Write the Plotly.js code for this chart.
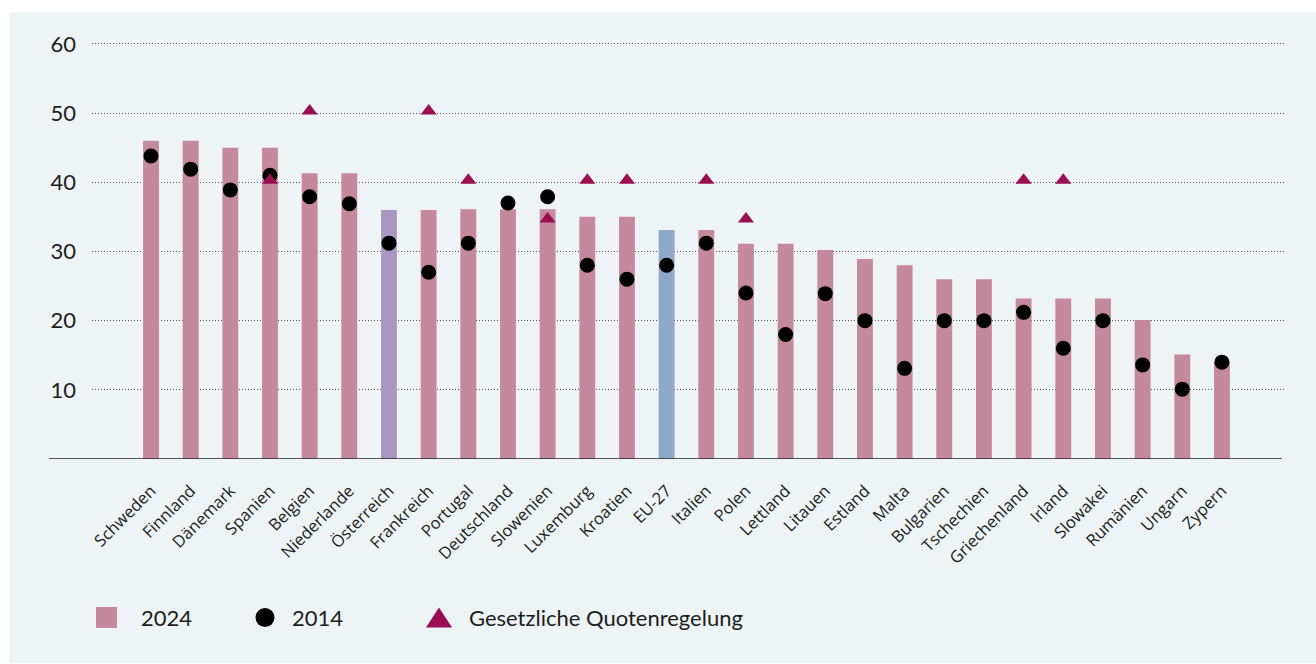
<!DOCTYPE html>
<html>
<head>
<meta charset="utf-8">
<script src="https://cdn.plot.ly/plotly-3.0.1.min.js"></script>
<style>
  html, body { margin: 0; padding: 0; background: #ffffff; }
  #chart { width: 1316px; height: 664px; }
</style>
</head>
<body>
<div id="chart"></div>
<script>
// Frauenanteil in Vorständen/Aufsichtsräten, in Prozent
const countries = [
  'Schweden', 'Finnland', 'Dänemark', 'Spanien', 'Belgien', 'Niederlande',
  'Österreich', 'Frankreich', 'Portugal', 'Deutschland', 'Slowenien',
  'Luxemburg', 'Kroatien', 'EU-27', 'Italien', 'Polen', 'Lettland',
  'Litauen', 'Estland', 'Malta', 'Bulgarien', 'Tschechien', 'Griechenland',
  'Irland', 'Slowakei', 'Rumänien', 'Ungarn', 'Zypern'
];

const share2024 = [
  46, 46, 45, 45, 41.3, 41.3,
  36, 36, 36.1, 36.1, 36.1,
  35, 35, 33.1, 33.1, 31.1, 31.1,
  30.2, 28.9, 28, 26, 26, 23.2,
  23.2, 23.2, 20.1, 15.1, 14
];

const share2014 = [
  43.8, 41.9, 38.9, 41, 37.9, 36.9,
  31.2, 27, 31.2, 37, 37.9,
  28, 26, 28, 31.2, 24, 18,
  23.9, 20, 13.1, 20, 20, 21.2,
  16, 20, 13.6, 10.1, 14
];

// Gesetzliche Quote (null = keine Regelung)
const quota = [
  null, null, null, 40.3, 50.3, null,
  null, 50.3, 40.3, null, 34.7,
  40.3, 40.3, null, 40.3, 34.7, null,
  null, null, null, null, null, 40.3,
  40.3, null, null, null, null
];

const legendLabels = ['2024', '2014', 'Gesetzliche Quotenregelung'];

// Styling
const PINK = '#c5899d';
const HIGHLIGHT = { 'Österreich': '#aa97c1', 'EU-27': '#8ea8ca' };
const QUOTA_COLOR = '#990f52';
const TEXT = '#1d1d1b';
const BG = '#eef3f6';

// Plot area geometry (pixels)
const W = 1316, H = 664;
const plotL = 92, plotR = 1285, plotT = 36.6, plotB = 459.3;
const px2x = p => (p - plotL) / (plotR - plotL);
const px2y = p => (plotB - p) / (plotB - plotT);

const barColors = countries.map(c => HIGHLIGHT[c] || PINK);

const traces = [
  {
    type: 'bar',
    x: countries,
    y: share2024,
    width: 0.4,
    marker: { color: barColors, line: { width: 0 } },
    hoverinfo: 'skip',
    showlegend: false
  },
  {
    type: 'scatter',
    mode: 'markers',
    x: countries,
    y: share2014,
    marker: { symbol: 'circle', size: 15, color: '#000000', line: { width: 0 } },
    hoverinfo: 'skip',
    showlegend: false
  },
  {
    type: 'scatter',
    mode: 'markers',
    x: countries,
    y: quota,
    marker: { symbol: 'triangle-up', size: 14, color: QUOTA_COLOR, line: { width: 0 } },
    hoverinfo: 'skip',
    showlegend: false
  }
];

// Hand-built legend row
const legY = 618;
const shapes = [
  // panel background
  {
    type: 'rect', xref: 'paper', yref: 'paper', layer: 'below',
    x0: px2x(9), x1: px2x(W), y0: px2y(H), y1: px2y(12),
    fillcolor: BG, line: { width: 0 }
  },
  // baseline
  {
    type: 'line', xref: 'paper', yref: 'y', layer: 'above',
    x0: px2x(49), x1: px2x(1282), y0: 0, y1: 0,
    line: { color: '#222222', width: 1.6 }
  },
  // legend: square
  {
    type: 'rect', xref: 'paper', yref: 'paper',
    x0: px2x(96), x1: px2x(117), y0: px2y(legY + 10.5), y1: px2y(legY - 10.5),
    fillcolor: PINK, line: { width: 0 }
  },
  // legend: dot
  {
    type: 'circle', xref: 'paper', yref: 'paper',
    x0: px2x(255.5), x1: px2x(274.5), y0: px2y(legY + 9.5), y1: px2y(legY - 9.5),
    fillcolor: '#000000', line: { width: 0 }
  },
  // legend: triangle
  {
    type: 'path', xref: 'paper', yref: 'paper',
    path: 'M' + px2x(426) + ',' + px2y(legY + 10) +
          ' L' + px2x(452) + ',' + px2y(legY + 10) +
          ' L' + px2x(439) + ',' + px2y(legY - 10) + ' Z',
    fillcolor: QUOTA_COLOR, line: { width: 0 }
  }
];

const legendTextX = [139, 290, 467];
const annotations = legendLabels.map((t, i) => ({
  text: t, xref: 'paper', yref: 'paper',
  x: px2x(legendTextX[i]), y: px2y(legY),
  xanchor: 'left', yanchor: 'middle', showarrow: false,
  font: { family: 'Lato, sans-serif', size: 22, color: TEXT }
}));

const layout = {
  width: W, height: H,
  margin: { l: plotL, r: W - plotR, t: plotT, b: H - plotB, pad: 0 },
  paper_bgcolor: '#ffffff',
  plot_bgcolor: 'rgba(0,0,0,0)',
  showlegend: false,
  xaxis: {
    type: 'category',
    categoryorder: 'array',
    categoryarray: countries,
    range: [-1.487, 28.59],
    showgrid: false, zeroline: false, showline: false,
    ticks: '',
    tickangle: -45,
    ticklabelstandoff: 18,
    tickfont: { family: 'Open Sans, sans-serif', size: 16.5, color: TEXT },
    fixedrange: true
  },
  yaxis: {
    range: [0, 61],
    tickvals: [10, 20, 30, 40, 50, 60],
    ticktext: ['10', '20', '30', '40', '50', '60'],
    showgrid: true,
    gridcolor: '#555555',
    gridwidth: 1,
    griddash: '1px,2px',
    zeroline: false, showline: false,
    ticks: '',
    ticklabelstandoff: 15,
    tickfont: { family: 'Lato, sans-serif', size: 22, color: TEXT },
    fixedrange: true
  },
  shapes: shapes,
  annotations: annotations
};

Plotly.newPlot('chart', traces, layout, { displayModeBar: false, staticPlot: true });
</script>
</body>
</html>
